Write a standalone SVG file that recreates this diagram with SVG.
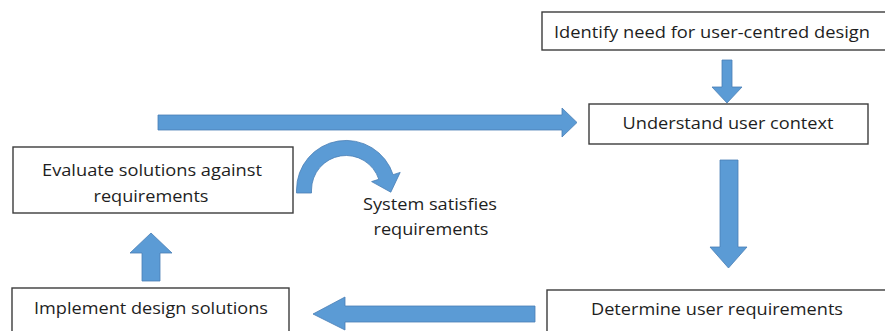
<svg xmlns="http://www.w3.org/2000/svg" width="885" height="331" viewBox="0 0 885 331">
  <style>
    .box { fill: #ffffff; stroke: #3c3c3c; stroke-width: 1.4; }
    .lbl { font-family: "Open Sans", "Liberation Sans", sans-serif; font-size: 16px; fill: #1e1e1e; text-anchor: middle; }
    .arrow { fill: #5b9bd5; stroke: #4a7fb5; stroke-width: 0.8; stroke-linejoin: miter; }
  </style>
  <rect width="885" height="331" fill="#ffffff"/>

  <g id="identify-need">
    <rect class="box" x="542" y="12" width="350" height="38"/>
    <text class="lbl" x="712" y="38" textLength="316" lengthAdjust="spacingAndGlyphs">Identify need for user-centred design</text>
  </g>

  <g id="understand-context">
    <rect class="box" x="589" y="104" width="279" height="40"/>
    <text class="lbl" x="728" y="129" textLength="211" lengthAdjust="spacingAndGlyphs">Understand user context</text>
  </g>

  <g id="evaluate-solutions">
    <rect class="box" x="13" y="147" width="280" height="66"/>
    <text class="lbl" x="152" y="176" textLength="220" lengthAdjust="spacingAndGlyphs">Evaluate solutions against</text>
    <text class="lbl" x="151" y="202" textLength="115" lengthAdjust="spacingAndGlyphs">requirements</text>
  </g>

  <g id="system-satisfies">
    <text class="lbl" x="430" y="210" textLength="134" lengthAdjust="spacingAndGlyphs">System satisfies</text>
    <text class="lbl" x="431" y="235" textLength="115" lengthAdjust="spacingAndGlyphs">requirements</text>
  </g>

  <g id="implement-solutions">
    <rect class="box" x="12" y="288" width="277" height="50"/>
    <text class="lbl" x="151" y="314" textLength="234" lengthAdjust="spacingAndGlyphs">Implement design solutions</text>
  </g>

  <g id="determine-requirements">
    <rect class="box" x="547" y="290" width="345" height="48"/>
    <text class="lbl" x="717" y="315" textLength="252" lengthAdjust="spacingAndGlyphs">Determine user requirements</text>
  </g>

  <g id="connectors">
    <!-- identify -> understand -->
    <polygon class="arrow" points="722,60 732,60 732,87 742,87 727,103 712,87 722,87"/>
    <!-- understand -> determine -->
    <polygon class="arrow" points="720,160 738,160 738,247 747,247 728.5,268 710,247 720,247"/>
    <!-- determine -> implement -->
    <polygon class="arrow" points="535,306 535,322 345,322 345,330 313,314 345,297 345,306"/>
    <!-- implement -> evaluate -->
    <polygon class="arrow" points="142,281 142,253 130,253 151,233 172,253 160,253 160,281"/>
    <!-- evaluate -> understand (iterate) -->
    <polygon class="arrow" points="158,115 562,115 562,108 577,122.5 562,137 562,130 158,130"/>
    <!-- evaluate -> system satisfies requirements -->
    <path class="arrow" d="M296.5 193 L296.5 190 A49.5 49.5 0 0 1 393.1 174.7 L400.2 172.4 L390.8 192.2 L371.6 181.6 L378.8 179.3 A34.5 34.5 0 0 0 311.5 190 L311.5 193 Z"/>
  </g>
</svg>
